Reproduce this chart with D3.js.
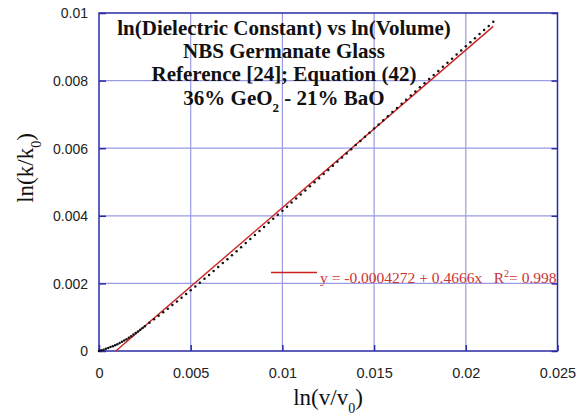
<!DOCTYPE html>
<html><head><meta charset="utf-8">
<script src="https://cdn.jsdelivr.net/npm/d3@7"></script>
<style>body{margin:0;background:#fff;} svg{display:block;}</style>
</head><body>
<script>
// ---- data ----
const lnV = [0,0.000125,0.00025,0.000375,0.0005,0.000625,0.00075,0.000875,0.001,0.001125,0.00125,0.001375,0.0015,0.001625,0.00175,0.001875,0.002,0.002125,0.00225,0.002375,0.0025,0.00275,0.003,0.00325,0.0035,0.00375,0.004,0.00425,0.0045,0.00475,0.005,0.00525,0.0055,0.00575,0.006,0.00625,0.0065,0.00675,0.007,0.00725,0.0075,0.00775,0.008,0.00825,0.0085,0.00875,0.009,0.00925,0.0095,0.00975,0.01,0.01025,0.0105,0.01075,0.011,0.01125,0.0115,0.01175,0.012,0.01225,0.0125,0.01275,0.013,0.01325,0.0135,0.01375,0.014,0.01425,0.0145,0.01475,0.015,0.01525,0.0155,0.01575,0.016,0.01625,0.0165,0.01675,0.017,0.01725,0.0175,0.01775,0.018,0.01825,0.0185,0.01875,0.019,0.01925,0.0195,0.01975,0.02,0.02025,0.0205,0.02075,0.021,0.02125,0.0215];
const lnK = [0,0.00002,0.00004,0.000065,0.00009,0.000115,0.00014,0.00017,0.0002,0.000235,0.00027,0.00031,0.00035,0.000395,0.00044,0.000485,0.00053,0.00058,0.00063,0.00068,0.000731,0.000833,0.000936,0.00104,0.001145,0.001251,0.001358,0.001466,0.001575,0.001685,0.001796,0.001908,0.002021,0.002135,0.00225,0.002366,0.002483,0.0026,0.002718,0.002836,0.002954,0.003073,0.003192,0.003311,0.003431,0.003551,0.003671,0.003791,0.003911,0.004031,0.004151,0.004271,0.004391,0.004511,0.004631,0.004751,0.004871,0.004991,0.005111,0.005234,0.005356,0.005479,0.005601,0.005724,0.005846,0.005969,0.006091,0.006214,0.006336,0.006459,0.006581,0.006703,0.006825,0.006947,0.007069,0.007191,0.007313,0.007435,0.007557,0.007679,0.007801,0.007923,0.008045,0.008166,0.008287,0.008408,0.008529,0.00865,0.008771,0.008892,0.009013,0.009134,0.009255,0.009376,0.009497,0.009618,0.009739];
const fitIntercept = -0.0004272;
const fitSlope = 0.4666;
const fitRange = [0.000916, 0.0215];
const xTicks = [0,0.005,0.01,0.015,0.02,0.025];
const xTickLabels = ["0","0.005","0.01","0.015","0.02","0.025"];
const yTicks = [0,0.002,0.004,0.006,0.008,0.01];
const yTickLabels = ["0","0.002","0.004","0.006","0.008","0.01"];
const titleLines = ["ln(Dielectric Constant) vs ln(Volume)","NBS Germanate Glass","Reference [24]; Equation (42)"];

// ---- layout ----
const W = 577, H = 419;
const L = 99, R = 557.5, T = 13, B = 351;
const svg = d3.select("body").append("svg").attr("width", W).attr("height", H);
const x = d3.scaleLinear().domain([0, 0.025]).range([L, R]);
const y = d3.scaleLinear().domain([0, 0.01]).range([B, T]);

const gridC = "#9a9ae6", frameC = "#2b2ba6";
// grid
svg.append("g").selectAll("line.gx").data(xTicks.slice(1, -1)).join("line")
  .attr("x1", d => x(d)).attr("x2", d => x(d)).attr("y1", T).attr("y2", B)
  .attr("stroke", gridC).attr("stroke-width", 1.2);
svg.append("g").selectAll("line.gy").data(yTicks.slice(1, -1)).join("line")
  .attr("y1", d => y(d)).attr("y2", d => y(d)).attr("x1", L).attr("x2", R)
  .attr("stroke", gridC).attr("stroke-width", 1.2);

// axes (inward ticks)
const axB = svg.append("g").attr("transform", `translate(0,${B})`)
  .call(d3.axisBottom(x).tickValues(xTicks).tickSizeInner(-6).tickSizeOuter(0).tickFormat((d,i) => xTickLabels[i]));
const axL = svg.append("g").attr("transform", `translate(${L},0)`)
  .call(d3.axisLeft(y).tickValues(yTicks).tickSizeInner(-7).tickSizeOuter(0).tickFormat((d,i) => yTickLabels[i]));
const axR = svg.append("g").attr("transform", `translate(${R},0)`)
  .call(d3.axisRight(y).tickValues(yTicks).tickSizeInner(-6).tickSizeOuter(0).tickFormat(""));
[axB, axL, axR].forEach(a => {
  a.selectAll("path.domain").remove();
  a.selectAll(".tick line").attr("stroke", frameC).attr("stroke-width", 1.5);
});
axB.selectAll("text").attr("font-family", "Liberation Sans, Arial, sans-serif").attr("font-size", 14.5)
  .attr("fill", "#222").attr("dy", null).attr("y", 27);
axL.selectAll("text").attr("font-family", "Liberation Sans, Arial, sans-serif").attr("font-size", 14)
  .attr("fill", "#222").attr("x", -11).attr("dy", "0.35em");

// frame
svg.append("rect").attr("x", L).attr("y", T).attr("width", R - L).attr("height", B - T)
  .attr("fill", "none").attr("stroke", frameC).attr("stroke-width", 1.5);

// fit line
svg.append("line")
  .attr("x1", x(fitRange[0])).attr("y1", y(fitIntercept + fitSlope * fitRange[0]))
  .attr("x2", x(fitRange[1])).attr("y2", y(fitIntercept + fitSlope * fitRange[1]))
  .attr("stroke", "#cc2222").attr("stroke-width", 1.4);

// data dots
svg.append("g").selectAll("circle").data(lnV).join("circle")
  .attr("cx", d => x(d)).attr("cy", (d, i) => y(lnK[i])).attr("r", 1.25).attr("fill", "#111");

// title
const serif = "Liberation Serif, Times New Roman, serif";
const tg = svg.append("g").attr("font-family", serif).attr("font-weight", "bold").attr("font-size", 21)
  .attr("text-anchor", "middle").attr("fill", "#111");
titleLines.forEach((t, i) => tg.append("text").attr("x", 284).attr("y", 35 + i * 23.2).text(t));
const t4 = tg.append("text").attr("x", 284).attr("y", 104.5);
t4.append("tspan").text("36% GeO");
t4.append("tspan").attr("font-size", 13).attr("dy", 7).text("2");
t4.append("tspan").attr("dy", -7).text(" - 21% BaO");

// legend
svg.append("line").attr("x1", 271).attr("x2", 317).attr("y1", 272.5).attr("y2", 272.5)
  .attr("stroke", "#cc2222").attr("stroke-width", 1.4);
const lt = svg.append("text").attr("x", 320).attr("y", 283).attr("font-family", serif)
  .attr("font-size", 15.5).attr("fill", "#cc3333").attr("xml:space", "preserve");
lt.append("tspan").text("y = -0.0004272 + 0.4666x   R");
lt.append("tspan").attr("font-size", 10).attr("dy", -6).text("2");
lt.append("tspan").attr("dy", 6).text("= 0.998");

// axis titles
const xt = svg.append("text").attr("x", 328).attr("y", 405).attr("text-anchor", "middle")
  .attr("font-family", serif).attr("font-size", 23).attr("fill", "#111");
xt.append("tspan").text("ln(v/v");
xt.append("tspan").attr("font-size", 14).attr("dy", 8).text("0");
xt.append("tspan").attr("dy", -8).text(")");

const yt = svg.append("text").attr("transform", "translate(33,168) rotate(-90)").attr("text-anchor", "middle")
  .attr("font-family", serif).attr("font-size", 23).attr("fill", "#111");
yt.append("tspan").text("ln(k/k");
yt.append("tspan").attr("font-size", 14).attr("dy", 8).text("0");
yt.append("tspan").attr("dy", -8).text(")");
</script>
</body></html>
